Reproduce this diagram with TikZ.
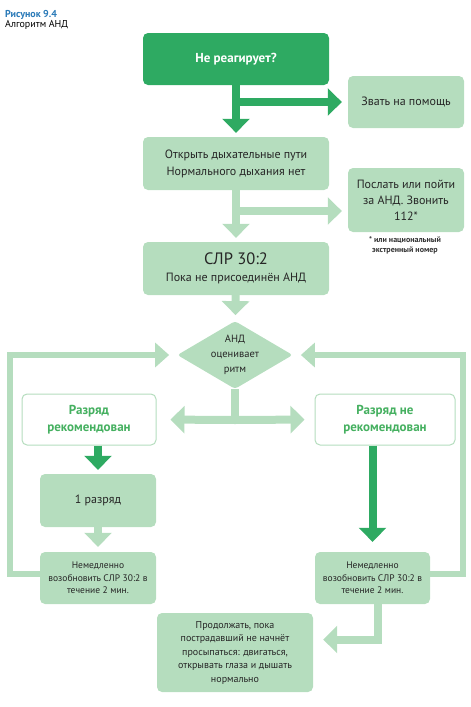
\documentclass[tikz,border=0pt]{standalone}
\usepackage{fontspec}
\setmainfont{PT Sans}
\usetikzlibrary{arrows.meta,shapes.geometric,positioning,calc}
\definecolor{aedDark}{HTML}{2EAA62}
\definecolor{aedLight}{HTML}{B5DDBE}
\definecolor{aedText}{HTML}{45B060}
\definecolor{aedBlue}{HTML}{2A7AB8}
\tikzset{
  box/.style={rounded corners=5pt, align=center, inner sep=2pt, text=black!85, font=\fontsize{12}{17}\selectfont},
  lightbox/.style={box, fill=aedLight},
  smallbox/.style={lightbox, font=\fontsize{9.5}{12.5}\selectfont},
  darkbox/.style={box, fill=aedDark, text=white, font=\fontsize{13}{15}\selectfont\bfseries},
  openbox/.style={box, draw=aedLight, line width=1pt, fill=white, text=aedText, font=\fontsize{13}{17}\selectfont\bfseries},
  darrow/.style={draw=aedDark, line width=8pt, -{Triangle[width=27pt,length=14pt]}},
  larrow/.style={draw=aedLight, line width=8pt, -{Triangle[width=27pt,length=14pt]}},
  backline/.style={draw=aedLight, line width=6pt, -{Triangle[width=24pt,length=14pt]}},
}
\begin{document}
\begin{tikzpicture}[x=1pt,y=-1pt]
\useasboundingbox (0,0) rectangle (471,707);
% title
\node[anchor=west, inner sep=0pt, text=aedBlue, font=\fontsize{10}{11}\selectfont\bfseries] (fig) at (5,15) {Рисунок 9.4};
\node[anchor=north west, inner sep=0pt, font=\fontsize{10}{11}\selectfont] (cap) at ([yshift=-0.5pt]fig.south west) {Алгоритм АНД};

% boxes
\node[darkbox, minimum width=186pt, minimum height=52pt] (start) at (236,59) {Не реагирует?};
\node[lightbox, minimum width=116pt, minimum height=52pt] (help) at (406,102) {Звать на помощь};
\node[lightbox, minimum width=186pt, minimum height=53pt] (airway) at (236,163.5) {Открыть дыхательные пути\\Нормального дыхания нет};
\node[lightbox, minimum width=116pt, minimum height=64pt, font=\fontsize{12}{16}\selectfont] (send) at (406,200) {Послать или пойти\\за АНД. Звонить\\112*};
\node[font=\fontsize{8}{10}\selectfont\bfseries, text=black!80, align=center, inner sep=0pt] (note) at (405,245) {* или национальный\\экстренный номер};
\node[lightbox, minimum width=186pt, minimum height=53pt] (cpr) at (236,268.5) {{\fontsize{16.5}{18}\selectfont СЛР 30:2}\\Пока не присоединён АНД};
\node[diamond, fill=aedLight, rounded corners=3pt, aspect=1.7, minimum width=110pt, minimum height=66pt, inner sep=0pt, align=center, text=black!85, font=\fontsize{10.5}{15}\selectfont] (aed) at (235,355) {АНД\\оценивает\\ритм};
\node[openbox, minimum width=134pt, minimum height=51pt] (shock) at (89,419.5) {Разряд\\рекомендован};
\node[openbox, minimum width=140pt, minimum height=51pt] (noshock) at (385,419.5) {Разряд не\\рекомендован};
\node[lightbox, minimum width=116pt, minimum height=53pt] (one) at (98,500.5) {1 разряд};
\node[smallbox, minimum width=116pt, minimum height=52pt] (resumeL) at (98,578) {Немедленно\\возобновить СЛР 30:2 в\\течение 2 мин.};
\node[smallbox, minimum width=115pt, minimum height=52pt] (resumeR) at (372.5,578) {Немедленно\\возобновить СЛР 30:2 в\\течение 2 мин.};
\node[smallbox, minimum width=156pt, minimum height=79pt, font=\fontsize{10}{13.5}\selectfont] (cont) at (235,652.5) {Продолжать, пока\\пострадавший не начнёт\\просыпаться: двигаться,\\открывать глаза и дышать\\нормально};

% connectors
\coordinate (b1) at (236,102);
\coordinate (b2) at (236,211);
\coordinate (fork) at (235,420);
\draw[darrow, shorten >=4pt] (start) -- (airway);
\draw[darrow, shorten >=6pt] (b1) -- (b1 -| help.west);
\draw[larrow, shorten >=4pt] (airway) -- (cpr);
\draw[larrow, shorten >=6pt] (b2) -- (b2 -| send.west);
\draw[larrow, shorten >=6pt] (cpr) -- (aed);
\draw[draw=aedLight, line width=8pt] (aed.south) -- (fork);
\draw[larrow, shorten >=14pt] (fork) -- (shock.east);
\draw[larrow, shorten >=10pt] (fork) -- (noshock.west);
\draw[darrow, shorten >=4pt] (shock.south -| one) -- (one);
\draw[larrow, shorten >=5pt] (one) -- (resumeL);
\draw[darrow, shorten >=10pt] (noshock.south -| resumeR) -- (resumeR);
\draw[backline, shorten >=8pt] ([yshift=4pt]resumeL.west) -- (10,574) |- (aed.west);
\draw[backline, shorten >=8pt] ([yshift=4pt]resumeR.east) -- (463,574) |- (aed.east);
\draw[larrow, shorten >=10pt] ([xshift=5.5pt]resumeR.south) |- ([yshift=13pt]cont.east);
\end{tikzpicture}
\end{document}
